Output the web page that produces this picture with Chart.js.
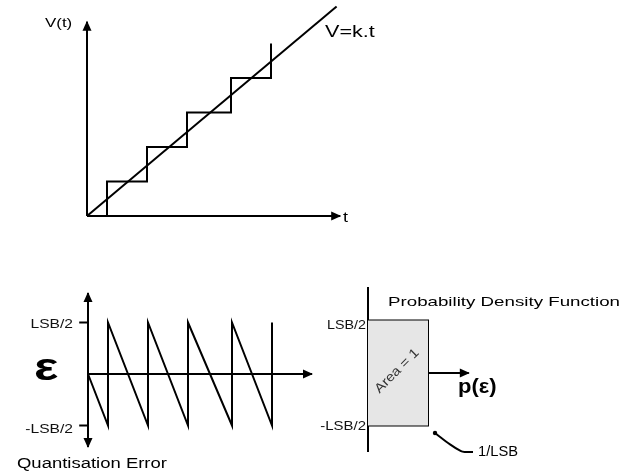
<!DOCTYPE html>
<html><head><meta charset="utf-8">
<script src="https://cdn.jsdelivr.net/npm/chart.js@4"></script>
<style>
html,body{margin:0;padding:0;background:#fff;}
#wrap{position:relative;width:625px;height:475px;overflow:hidden;}
canvas{position:absolute;left:0;top:0;}
</style>
</head><body>
<div id="wrap">
<canvas id="cTop" width="625" height="475"></canvas>
<canvas id="cErr" width="625" height="475"></canvas>
<canvas id="cPdf" width="625" height="475"></canvas>
</div>
<script>
// ---------- DATA ----------
const stepTimes  = [0.5, 1.5, 2.5, 3.6, 4.6];   // times at which the quantised output steps
const stepLevels = [1, 2, 3, 4, 5];             // quantised levels (LSB) after each step
const rampEnd    = [6.24, 6.07];                // end point of V = k.t
const errHigh    = 0.5;                         // +LSB/2
const errLow     = -0.5;                        // -LSB/2
const pdfEps     = [-0.5, 0.5];                 // range of epsilon for the PDF
const pdfDensity = 1;                           // 1/LSB
const errTickValues = [0.5, -0.5];
const errTickLabels = ['LSB/2', '-LSB/2'];
const pdfTickLabels = ['LSB/2', '-LSB/2'];
const leaderPts  = [[1.117, -0.571], [1.367, -0.68], [1.55, -0.745], [1.62, -0.752], [1.75, -0.752]];

// ---------- helpers ----------
const FONT = '"Liberation Sans", Arial, sans-serif';
function scalesFor(ox, oy, ux, uy) {
  return {
    x: {type: 'linear', display: false, min: -ox / ux, max: (625 - ox) / ux},
    y: {type: 'linear', display: false, min: -(475 - oy) / uy, max: oy / uy}
  };
}
function line(data, extra) {
  return Object.assign({
    data: data.map(p => ({x: p[0], y: p[1]})),
    showLine: true, borderColor: '#000', borderWidth: 2, pointRadius: 0,
    fill: false, tension: 0, clip: false, borderJoinStyle: 'miter'
  }, extra || {});
}
function txt(ctx, s, x, y, o) {
  o = o || {};
  ctx.save();
  ctx.translate(x, y);
  if (o.rot) ctx.rotate(o.rot);
  ctx.scale(o.sx || 1, 1);
  ctx.font = (o.bold ? 'bold ' : '') + (o.size || 13) + 'px ' + FONT;
  ctx.textAlign = o.align || 'left';
  ctx.textBaseline = o.base || 'alphabetic';
  ctx.fillStyle = o.color || '#000';
  ctx.fillText(s, 0, 0);
  ctx.restore();
}
const arrowPlugin = {
  id: 'arrows',
  afterDatasetsDraw(chart) {
    const ctx = chart.ctx;
    chart.data.datasets.forEach((ds, i) => {
      const pts = chart.getDatasetMeta(i).data;
      const heads = [];
      if (ds.arrowEnd) heads.push([pts[pts.length - 1], pts[pts.length - 2]]);
      if (ds.arrowStart) heads.push([pts[0], pts[1]]);
      if (ds.dotStart) {
        ctx.save(); ctx.fillStyle = '#000'; ctx.beginPath();
        ctx.arc(pts[0].x, pts[0].y, 2.2, 0, Math.PI * 2); ctx.fill(); ctx.restore();
      }
      heads.forEach(([tip, prev]) => {
        const a = Math.atan2(tip.y - prev.y, tip.x - prev.x);
        ctx.save();
        ctx.translate(tip.x, tip.y); ctx.rotate(a);
        ctx.fillStyle = '#000';
        ctx.beginPath(); ctx.moveTo(1, 0); ctx.lineTo(-9, -4.5); ctx.lineTo(-9, 4.5); ctx.closePath(); ctx.fill();
        ctx.restore();
      });
    });
  }
};
function labelsPlugin(fn) { return {id: 'labels', afterDraw(chart) { fn(chart.ctx, chart.scales.x, chart.scales.y); }}; }
const baseOpts = (sc) => ({
  responsive: false, animation: false, devicePixelRatio: 1,
  layout: {padding: 0},
  plugins: {legend: {display: false}, tooltip: {enabled: false}},
  events: [],
  scales: sc
});

// ---------- TOP: V(t) staircase ----------
const stairs = [[stepTimes[0], 0]];
stepTimes.forEach((t, i) => {
  stairs.push([t, i === 0 ? 0 : stepLevels[i - 1]]);
  stairs.push([t, stepLevels[i]]);
  if (i < stepTimes.length - 1) stairs.push([stepTimes[i + 1], stepLevels[i]]);
});
new Chart(document.getElementById('cTop'), {
  type: 'scatter',
  data: {datasets: [
    line([[0, 0], [0, 5.63]], {arrowEnd: true}),
    line([[0, 0], [6.33, 0]], {arrowEnd: true}),
    line([[0, 0], rampEnd]),
    line(stairs)
  ]},
  options: baseOpts(scalesFor(87, 216, 40, 34.5)),
  plugins: [arrowPlugin, labelsPlugin((ctx, x, y) => {
    txt(ctx, 'V(t)', 45, 27, {size: 13, sx: 1.3});
    txt(ctx, 'V=k.t', 325, 37, {size: 16, sx: 1.35});
    txt(ctx, 't', 343, 222, {size: 15, sx: 1.2});
  })]
});

// ---------- BOTTOM LEFT: quantisation error ----------
const saw = [[0, 0]];
stepTimes.forEach(t => { saw.push([t, errLow]); saw.push([t, errHigh]); });
const errDs = [
  line([[0, 0.786], [0, -0.709]], {arrowEnd: true, arrowStart: true}),
  line([[0, 0], [5.6, 0]], {arrowEnd: true}),
  line(saw)
];
errTickValues.forEach(v => errDs.push(line([[-0.22, v], [0, v]])));
new Chart(document.getElementById('cErr'), {
  type: 'scatter',
  data: {datasets: errDs},
  options: baseOpts(scalesFor(88, 374, 40, 103)),
  plugins: [arrowPlugin, labelsPlugin((ctx, x, y) => {
    txt(ctx, errTickLabels[0], 73, y.getPixelForValue(errTickValues[0]) + 5, {size: 13, sx: 1.2, align: 'right', color: '#111'});
    txt(ctx, errTickLabels[1], 73, y.getPixelForValue(errTickValues[1]) + 7, {size: 13, sx: 1.2, align: 'right', color: '#111'});
    txt(ctx, '\u03B5', 34, 380, {size: 38, sx: 1.35, bold: true});
    txt(ctx, 'Quantisation Error', 17, 468, {size: 14, sx: 1.32});
  })]
});

// ---------- BOTTOM RIGHT: probability density function ----------
new Chart(document.getElementById('cPdf'), {
  type: 'scatter',
  data: {datasets: [
    line([[0, pdfEps[1]], [pdfDensity, pdfEps[1]]], {borderWidth: 0, borderColor: 'rgba(0,0,0,0)', fill: '+1', backgroundColor: '#e6e6e6'}),
    line([[0, pdfEps[0]], [pdfDensity, pdfEps[0]]], {borderWidth: 0, borderColor: 'rgba(0,0,0,0)'}),
    line([[0, pdfEps[0]], [pdfDensity, pdfEps[0]], [pdfDensity, pdfEps[1]], [0, pdfEps[1]]]),
    line([[0, 0.819], [0, -0.752]]),
    line([[0, 0], [1.68, 0]], {arrowEnd: true}),
    line(leaderPts, {tension: 0.35, dotStart: true, borderWidth: 2})
  ]},
  options: baseOpts(scalesFor(368, 373, 60, 105)),
  plugins: [arrowPlugin, labelsPlugin((ctx, x, y) => {
    txt(ctx, 'Probability Density Function', 388, 306, {size: 13, sx: 1.44});
    txt(ctx, pdfTickLabels[0], 366, y.getPixelForValue(pdfEps[1]) + 8, {size: 13, sx: 1.1, align: 'right', color: '#111'});
    txt(ctx, pdfTickLabels[1], 366, y.getPixelForValue(pdfEps[0]) + 4, {size: 13, sx: 1.15, align: 'right', color: '#111'});
    txt(ctx, 'p(\u03B5)', 458, 393, {size: 20, sx: 1.1, bold: true});
    txt(ctx, '1/LSB', 478, 456, {size: 15, sx: 0.98});
    txt(ctx, 'Area = 1', 397, 371, {size: 13, sx: 1.15, align: 'center', base: 'middle', rot: -Math.PI / 4, color: '#333'});
  })]
});
</script>
</body></html>
